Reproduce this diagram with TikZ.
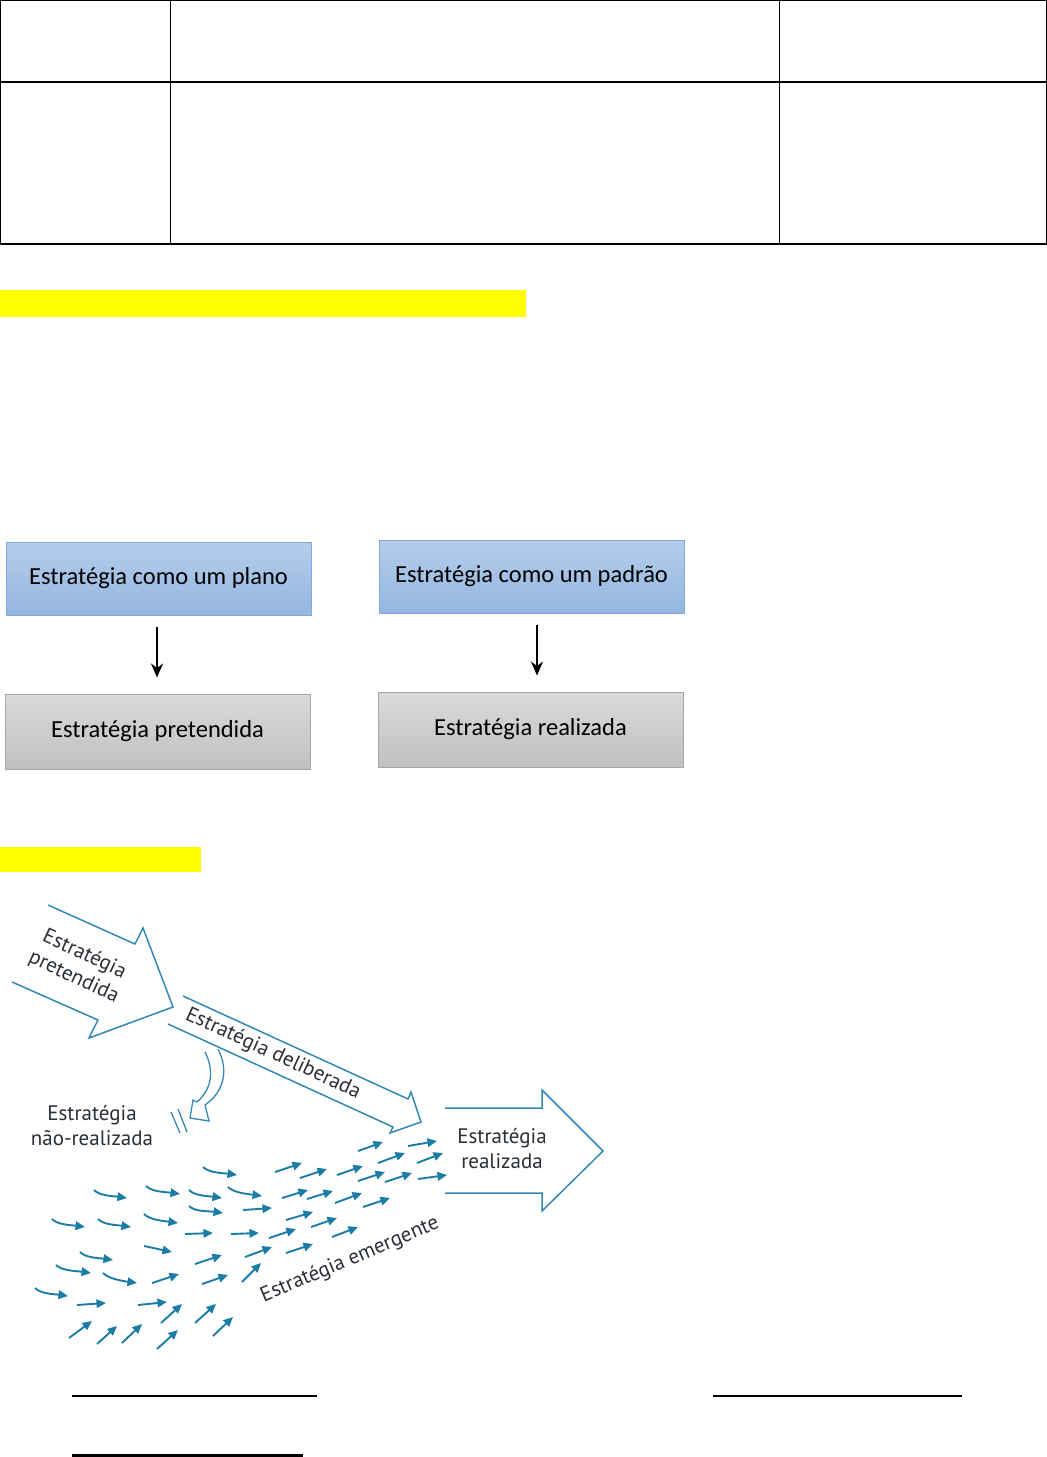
\documentclass[tikz,border=0pt]{standalone}
\usepackage{fontspec}
\setmainfont{Carlito}
\newfontfamily\diagfont{PT Sans}
\usetikzlibrary{arrows.meta}
\definecolor{boxblueT}{HTML}{B4CDEB}
\definecolor{boxblueB}{HTML}{94B6E0}
\definecolor{boxblueD}{HTML}{82A9DA}
\definecolor{boxgrayT}{HTML}{DADADA}
\definecolor{boxgrayB}{HTML}{C0C0C0}
\definecolor{boxgrayD}{HTML}{A6A6A6}
\definecolor{hl}{HTML}{FFFF00}
\definecolor{outl}{HTML}{3389B3}
\definecolor{sarr}{HTML}{1B7DA6}
\definecolor{dtext}{HTML}{2A2F36}
\begin{document}
\begin{tikzpicture}[x=1pt,y=-1pt,
  bluebox/.style={draw=boxblueD, line width=1pt, top color=boxblueT, bottom color=boxblueB,
    minimum width=305pt, minimum height=73pt, inner sep=0pt, font=\fontsize{24.5}{29}\selectfont},
  graybox/.style={draw=boxgrayD, line width=1pt, top color=boxgrayT, bottom color=boxgrayB,
    minimum width=305pt, minimum height=75pt, inner sep=0pt, font=\fontsize{24.5}{29}\selectfont},
  downarrow/.style={-{Stealth[length=14pt,width=12pt]}, line width=2.2pt},
  bigarrow/.style={draw=outl, line width=1.5pt, line join=miter},
  sarrow/.style={draw=sarr, line width=1.9pt, -{Triangle[length=9.5pt,width=8.5pt]}},
  dlabel/.style={font=\diagfont\fontsize{21}{25}\selectfont, text=dtext, align=center, inner sep=0pt},
  tline/.style={line width=1pt},
  tlinethick/.style={line width=1.6pt}]
\useasboundingbox (0,0) rectangle (1047,1457);

% table
\draw[tline] (0.5,244) -- (0.5,0.5) -- (1046.5,0.5) -- (1046.5,244);
\draw[tlinethick] (0,82) -- (1047,82);
\draw[tlinethick] (0,244) -- (1047,244);
\draw[tline] (170.5,0) -- (170.5,244);
\draw[tline] (779,0) -- (779,244);

% highlights
\fill[hl] (0,290) rectangle (526,317);
\fill[hl] (0,847) rectangle (201,872);

% boxes
\node[bluebox] (plano) at (158.5,578.5) {Estratégia como um plano};
\node[bluebox] (padrao) at (531.5,576.5) {Estratégia como um padrão};
\node[graybox] (pret) at (157.5,731.5) {Estratégia pretendida};
\node[graybox] (real) at (530.5,729.5) {Estratégia realizada};
\draw[downarrow, shorten <=11pt, shorten >=16pt] ([xshift=-1.5pt]plano.south) -- ([xshift=-0.5pt]pret.north);
\draw[downarrow, shorten <=11pt, shorten >=16pt] ([xshift=5.5pt]padrao.south) -- ([xshift=6.5pt]real.north);

% big outline arrows
\draw[bigarrow] (48,905) -- (135,944) -- (143,928) -- (173,1007) -- (89,1038) -- (98,1020) -- (12,982);
\draw[bigarrow] (183,996) -- (408,1099) -- (411,1092) -- (421,1122) -- (390,1133) -- (393,1127) -- (168,1024);
\draw[bigarrow, line width=1.3pt] (218,1049) .. controls (229,1070) and (224,1092) .. (205,1105)
  -- (209,1121) -- (190,1118) -- (193,1100) -- (197,1102)
  .. controls (211,1090) and (215,1072) .. (205,1052);
\draw[outl, line width=1.3pt] (171,1112) -- (180,1133);
\draw[outl, line width=1.3pt] (178,1109) -- (187,1132);
\draw[bigarrow] (445,1108) -- (542,1108) -- (542,1090) -- (603,1151) -- (542,1211) -- (542,1193) -- (445,1193);

% labels
\node[dlabel, rotate=-25] (lpret) at (79,966) {Estratégia\\pretendida};
\node[dlabel, rotate=-24.6] (ldelib) at (273,1054) {Estratégia deliberada};
\node[dlabel] (lnreal) at (92,1126) {Estratégia\\não-realizada};
\node[dlabel] (lreal) at (502,1149) {Estratégia\\realizada};
\node[dlabel, rotate=23] (lemerg) at (350,1260) {Estratégia emergente};

% small straight arrows
\foreach \a/\b/\c/\d in {358/1151/383/1142, 408/1146/437/1141, 378/1163/405/1153, 417/1163/443/1153,
  275/1172/302/1163, 300/1178/327/1169, 337/1175/363/1166, 358/1181/385/1172, 385/1182/412/1173,
  418/1179/447/1175, 282/1198/308/1190, 307/1199/333/1191, 335/1203/362/1193, 363/1207/390/1198,
  243/1210/272/1208, 286/1220/313/1212, 311/1227/337/1218, 332/1237/358/1227, 185/1234/213/1233,
  231/1234/259/1233, 269/1238/296/1229, 286/1253/313/1244, 245/1257/272/1247, 195/1264/222/1255,
  144/1246/172/1252, 152/1283/179/1274, 202/1284/228/1275, 242/1282/261/1263, 77/1305/106/1303,
  138/1305/167/1302, 161/1323/182/1304, 195/1323/216/1304, 69/1338/92/1321, 97/1344/117/1326,
  122/1343/142/1324, 157/1349/178/1330, 213/1336/233/1317}
  \draw[sarrow] (\a,\b) -- (\c,\d);

% small curved arrows
\foreach \a/\b/\c/\d in {203/1167/237/1175, 94/1190/127/1198, 146/1186/180/1194, 189/1190/222/1198,
  228/1187/262/1196, 189/1206/223/1213, 144/1214/178/1223, 52/1219/85/1227, 98/1219/131/1227,
  80/1252/113/1260, 56/1265/91/1273, 103/1273/137/1283, 35/1288/68/1296}
  \draw[sarrow] (\a,\b) .. controls +(6,6) and +(-14,-2) .. (\c,\d);

% bottom lines
\draw[line width=1.3pt] (72,1396) -- (317,1396);
\draw[line width=1.3pt] (713,1396) -- (962,1396);
\draw[line width=2.6pt] (72,1455.5) -- (303,1455.5);
\end{tikzpicture}
\end{document}
